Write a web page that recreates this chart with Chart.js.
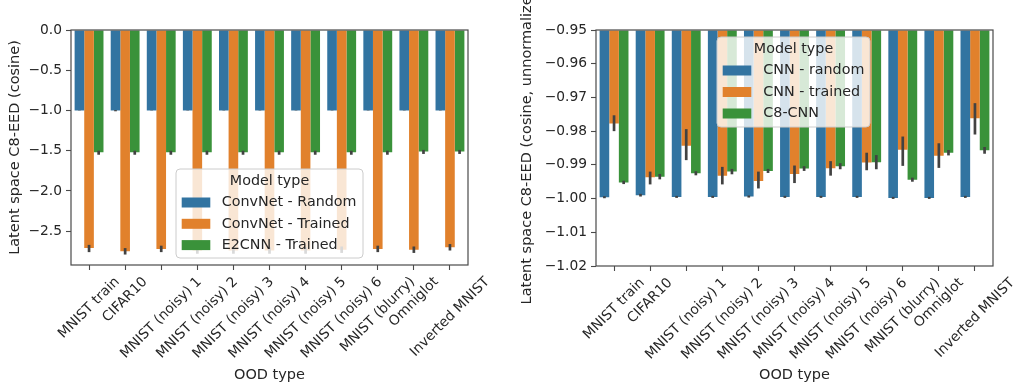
<!DOCTYPE html>
<html>
<head>
<meta charset="utf-8">
<script src="https://cdn.jsdelivr.net/npm/chart.js@4.4.0/dist/chart.umd.min.js"></script>
<style>
  html, body { margin: 0; padding: 0; background: #fff; }
  #wrap { position: relative; width: 1014px; height: 385px; }
  canvas { position: absolute; top: 0; }
</style>
</head>
<body>
<div id="wrap">
  <canvas id="left" width="507" height="385" style="left:0"></canvas>
  <canvas id="right" width="507" height="385" style="left:507px"></canvas>
</div>
<script>
// categories (x axis, both panels)
const oodTypes = ['MNIST train', 'CIFAR10', 'MNIST (noisy) 1', 'MNIST (noisy) 2', 'MNIST (noisy) 3',
    'MNIST (noisy) 4', 'MNIST (noisy) 5', 'MNIST (noisy) 6', 'MNIST (blurry)', 'Omniglot', 'Inverted MNIST'];

// left panel
const leftNames = ['ConvNet - Random', 'ConvNet - Trained', 'E2CNN - Trained'];
const leftRandom  = [-1.00, -1.00, -1.00, -1.00, -1.00, -1.00, -1.00, -1.00, -1.00, -1.00, -1.00];
const leftTrained = [-2.71, -2.75, -2.72, -2.74, -2.74, -2.74, -2.74, -2.73, -2.72, -2.73, -2.70];
const leftE2      = [-1.52, -1.52, -1.52, -1.52, -1.52, -1.52, -1.52, -1.52, -1.52, -1.51, -1.51];
const leftRandomLo  = [-1.002, -1.010, -1.002, -1.002, -1.002, -1.002, -1.002, -1.002, -1.002, -1.002, -1.002];
const leftRandomHi  = [-0.998, -0.995, -0.998, -0.998, -0.998, -0.998, -0.998, -0.998, -0.998, -0.998, -0.998];
const leftTrainedLo = [-2.76, -2.79, -2.76, -2.78, -2.78, -2.78, -2.78, -2.77, -2.76, -2.77, -2.74];
const leftTrainedHi = [-2.67, -2.71, -2.68, -2.70, -2.70, -2.70, -2.70, -2.69, -2.68, -2.69, -2.66];
const leftE2Lo      = [-1.55, -1.55, -1.55, -1.55, -1.55, -1.55, -1.55, -1.55, -1.55, -1.54, -1.54];
const leftE2Hi      = [-1.50, -1.50, -1.50, -1.50, -1.50, -1.50, -1.50, -1.50, -1.50, -1.49, -1.49];
const leftTicks = [0, -0.5, -1.0, -1.5, -2.0, -2.5];

// right panel
const rightNames = ['CNN - random', 'CNN - trained', 'C8-CNN'];
const rightRandom  = [-0.9996, -0.9990, -0.9995, -0.9995, -0.9994, -0.9995, -0.9995, -0.9995, -0.9998, -0.9998, -0.9995];
const rightTrained = [-0.9777, -0.9937, -0.9843, -0.9932, -0.9948, -0.9927, -0.9910, -0.9893, -0.9855, -0.9873, -0.9762];
const rightC8      = [-0.9952, -0.9935, -0.9925, -0.9920, -0.9918, -0.9911, -0.9904, -0.9892, -0.9944, -0.9864, -0.9857];
const rightRandomLo  = [-0.9999, -0.9994, -0.9998, -0.9998, -0.9997, -0.9998, -0.9998, -0.9998, -1.0001, -1.0001, -0.9998];
const rightRandomHi  = [-0.9993, -0.9986, -0.9992, -0.9992, -0.9991, -0.9992, -0.9992, -0.9992, -0.9995, -0.9995, -0.9992];
const rightTrainedLo = [-0.9800, -0.9958, -0.9886, -0.9958, -0.9970, -0.9954, -0.9932, -0.9916, -0.9903, -0.9909, -0.9810];
const rightTrainedHi = [-0.9753, -0.9920, -0.9794, -0.9906, -0.9920, -0.9902, -0.9889, -0.9864, -0.9816, -0.9836, -0.9717];
const rightC8Lo      = [-0.9957, -0.9943, -0.9931, -0.9928, -0.9924, -0.9918, -0.9913, -0.9913, -0.9950, -0.9872, -0.9867];
const rightC8Hi      = [-0.9947, -0.9927, -0.9919, -0.9912, -0.9912, -0.9904, -0.9895, -0.9871, -0.9938, -0.9856, -0.9847];
const rightTicks = [-0.95, -0.96, -0.97, -0.98, -0.99, -1.00, -1.01, -1.02];

const colors = ['#3274a1', '#e1812c', '#3a923a'];
const FONT = 'DejaVu Sans';
const TEXT = '#262626';
const LINE = '#4a4a4a';
const TICK_SIZE = 13.8;
const LABEL_SIZE = 14.5;

Chart.defaults.font.family = FONT;
Chart.defaults.color = TEXT;

function fmt(v, d) {
    return v.toFixed(d).replace('-', '\u2212');
}

function roundRect(ctx, x, y, w, h, r) {
    ctx.beginPath();
    ctx.moveTo(x + r, y);
    ctx.lineTo(x + w - r, y);
    ctx.arcTo(x + w, y, x + w, y + r, r);
    ctx.lineTo(x + w, y + h - r);
    ctx.arcTo(x + w, y + h, x + w - r, y + h, r);
    ctx.lineTo(x + r, y + h);
    ctx.arcTo(x, y + h, x, y + h - r, r);
    ctx.lineTo(x, y + r);
    ctx.arcTo(x, y, x + r, y, r);
    ctx.closePath();
}

function makeChart(id, o) {
    const datasets = o.series.map((vals, k) => ({
        label: o.names[k],
        data: vals,
        errLo: o.lo[k],
        errHi: o.hi[k],
        backgroundColor: colors[k],
        borderWidth: 0,
        base: o.base,
        categoryPercentage: 0.8,
        barPercentage: 1.0
    }));

    const extras = {
        id: 'extras',
        afterDatasetsDraw(chart) {
            // error bars
            const ctx = chart.ctx;
            const y = chart.scales.y;
            ctx.save();
            ctx.strokeStyle = '#424242';
            ctx.lineWidth = 2.7;
            chart.data.datasets.forEach((ds, i) => {
                chart.getDatasetMeta(i).data.forEach((el, j) => {
                    ctx.beginPath();
                    ctx.moveTo(el.x, y.getPixelForValue(ds.errLo[j]));
                    ctx.lineTo(el.x, y.getPixelForValue(ds.errHi[j]));
                    ctx.stroke();
                });
            });
            ctx.restore();
        },
        afterDraw(chart) {
            const ctx = chart.ctx;
            const a = chart.chartArea;
            const xs = chart.scales.x;
            ctx.save();
            // spines
            ctx.strokeStyle = LINE;
            ctx.lineWidth = 1.2;
            ctx.strokeRect(a.left, a.top, a.right - a.left, a.bottom - a.top);

            // rotated category labels, centred on the tick like matplotlib
            ctx.font = TICK_SIZE + 'px "' + FONT + '"';
            ctx.fillStyle = TEXT;
            ctx.textAlign = 'center';
            ctx.textBaseline = 'middle';
            const s = Math.SQRT1_2;
            const h = TICK_SIZE * 1.16;
            const top = a.bottom + 9;
            oodTypes.forEach((lab, i) => {
                const L = ctx.measureText(lab).width;
                const cx = xs.getPixelForValue(i);
                const cy = top + (L + h) * s / 2;
                ctx.save();
                ctx.translate(cx, cy);
                ctx.rotate(-Math.PI / 4);
                ctx.fillText(lab, 0, 0);
                ctx.restore();
            });

            // y title drawn by hand so the long one is clipped, not squeezed
            ctx.save();
            ctx.font = LABEL_SIZE + 'px "' + FONT + '"';
            ctx.translate(o.yTitleX, (a.top + a.bottom) / 2 + o.yTitleShift);
            ctx.rotate(-Math.PI / 2);
            ctx.textAlign = 'center';
            ctx.textBaseline = 'middle';
            ctx.fillText(o.yTitle, 0, 0);
            ctx.restore();

            // legend box
            const L = o.legend;
            roundRect(ctx, L.x, L.y, L.w, L.h, 4);
            ctx.fillStyle = 'rgba(255,255,255,0.8)';
            ctx.fill();
            ctx.strokeStyle = '#cccccc';
            ctx.lineWidth = 1;
            ctx.stroke();
            ctx.font = '14.3px "' + FONT + '"';
            ctx.fillStyle = TEXT;
            ctx.textAlign = 'center';
            ctx.textBaseline = 'middle';
            ctx.fillText('Model type', L.x + L.w / 2, L.titleY);
            ctx.textAlign = 'left';
            o.names.forEach((n, k) => {
                const ry = L.rowY + k * L.rowGap;
                ctx.fillStyle = colors[k];
                ctx.fillRect(L.px, ry - 5, 28.6, 10);
                ctx.fillStyle = TEXT;
                ctx.fillText(n, L.tx, ry);
            });
            ctx.restore();
        }
    };

    const tickGrid = { display: true, drawOnChartArea: false, offset: false, drawTicks: true, tickLength: 5, color: LINE, tickColor: LINE, tickWidth: 1.1 };

    return new Chart(document.getElementById(id), {
        type: 'bar',
        data: { labels: oodTypes, datasets },
        options: {
            responsive: false,
            animation: false,
            layout: { padding: { top: 30, left: 0, right: o.padRight, bottom: 0 } },
            plugins: { legend: { display: false }, tooltip: { enabled: false } },
            scales: {
                x: {
                    type: 'category',
                    offset: true,
                    grid: tickGrid,
                    border: { display: false },
                    ticks: { display: false },
                    title: { display: true, text: 'OOD type', color: TEXT, font: { size: LABEL_SIZE }, padding: { top: 0, bottom: 1.4 } },
                    afterFit(s) { s.height = o.xHeight; }
                },
                y: {
                    min: o.ymin,
                    max: o.ymax,
                    grid: tickGrid,
                    border: { display: false },
                    afterBuildTicks(s) { s.ticks = o.yticks.map(v => ({ value: v })); },
                    ticks: { color: TEXT, font: { size: TICK_SIZE }, padding: 4, callback: v => fmt(v, o.dec) },
                    afterFit(s) { s.width = o.yWidth; }
                }
            }
        },
        plugins: [extras]
    });
}

makeChart('left', {
    names: leftNames,
    series: [leftRandom, leftTrained, leftE2],
    lo: [leftRandomLo, leftTrainedLo, leftE2Lo],
    hi: [leftRandomHi, leftTrainedHi, leftE2Hi],
    base: 0,
    ymin: -2.92, ymax: 0,
    yticks: leftTicks, dec: 1,
    yTitle: 'Latent space C8-EED (cosine)', yTitleX: 15, yTitleShift: 0,
    yWidth: 71, padRight: 39, xHeight: 120,
    legend: { x: 176, y: 169, w: 187, h: 89, titleY: 181, rowY: 202.5, rowGap: 21.3, px: 181.7, tx: 221.7 }
});

makeChart('right', {
    names: rightNames,
    series: [rightRandom, rightTrained, rightC8],
    lo: [rightRandomLo, rightTrainedLo, rightC8Lo],
    hi: [rightRandomHi, rightTrainedHi, rightC8Hi],
    base: -0.95,
    ymin: -1.02, ymax: -0.95,
    yticks: rightTicks, dec: 2,
    yTitle: 'Latent space C8-EED (cosine, unnormalized)', yTitleX: 20.5, yTitleShift: -5,
    yWidth: 89, padRight: 21, xHeight: 119,
    legend: { x: 210, y: 37, w: 153, h: 90, titleY: 49, rowY: 70.5, rowGap: 21.5, px: 215.7, tx: 256.3 }
});
</script>
</body>
</html>
